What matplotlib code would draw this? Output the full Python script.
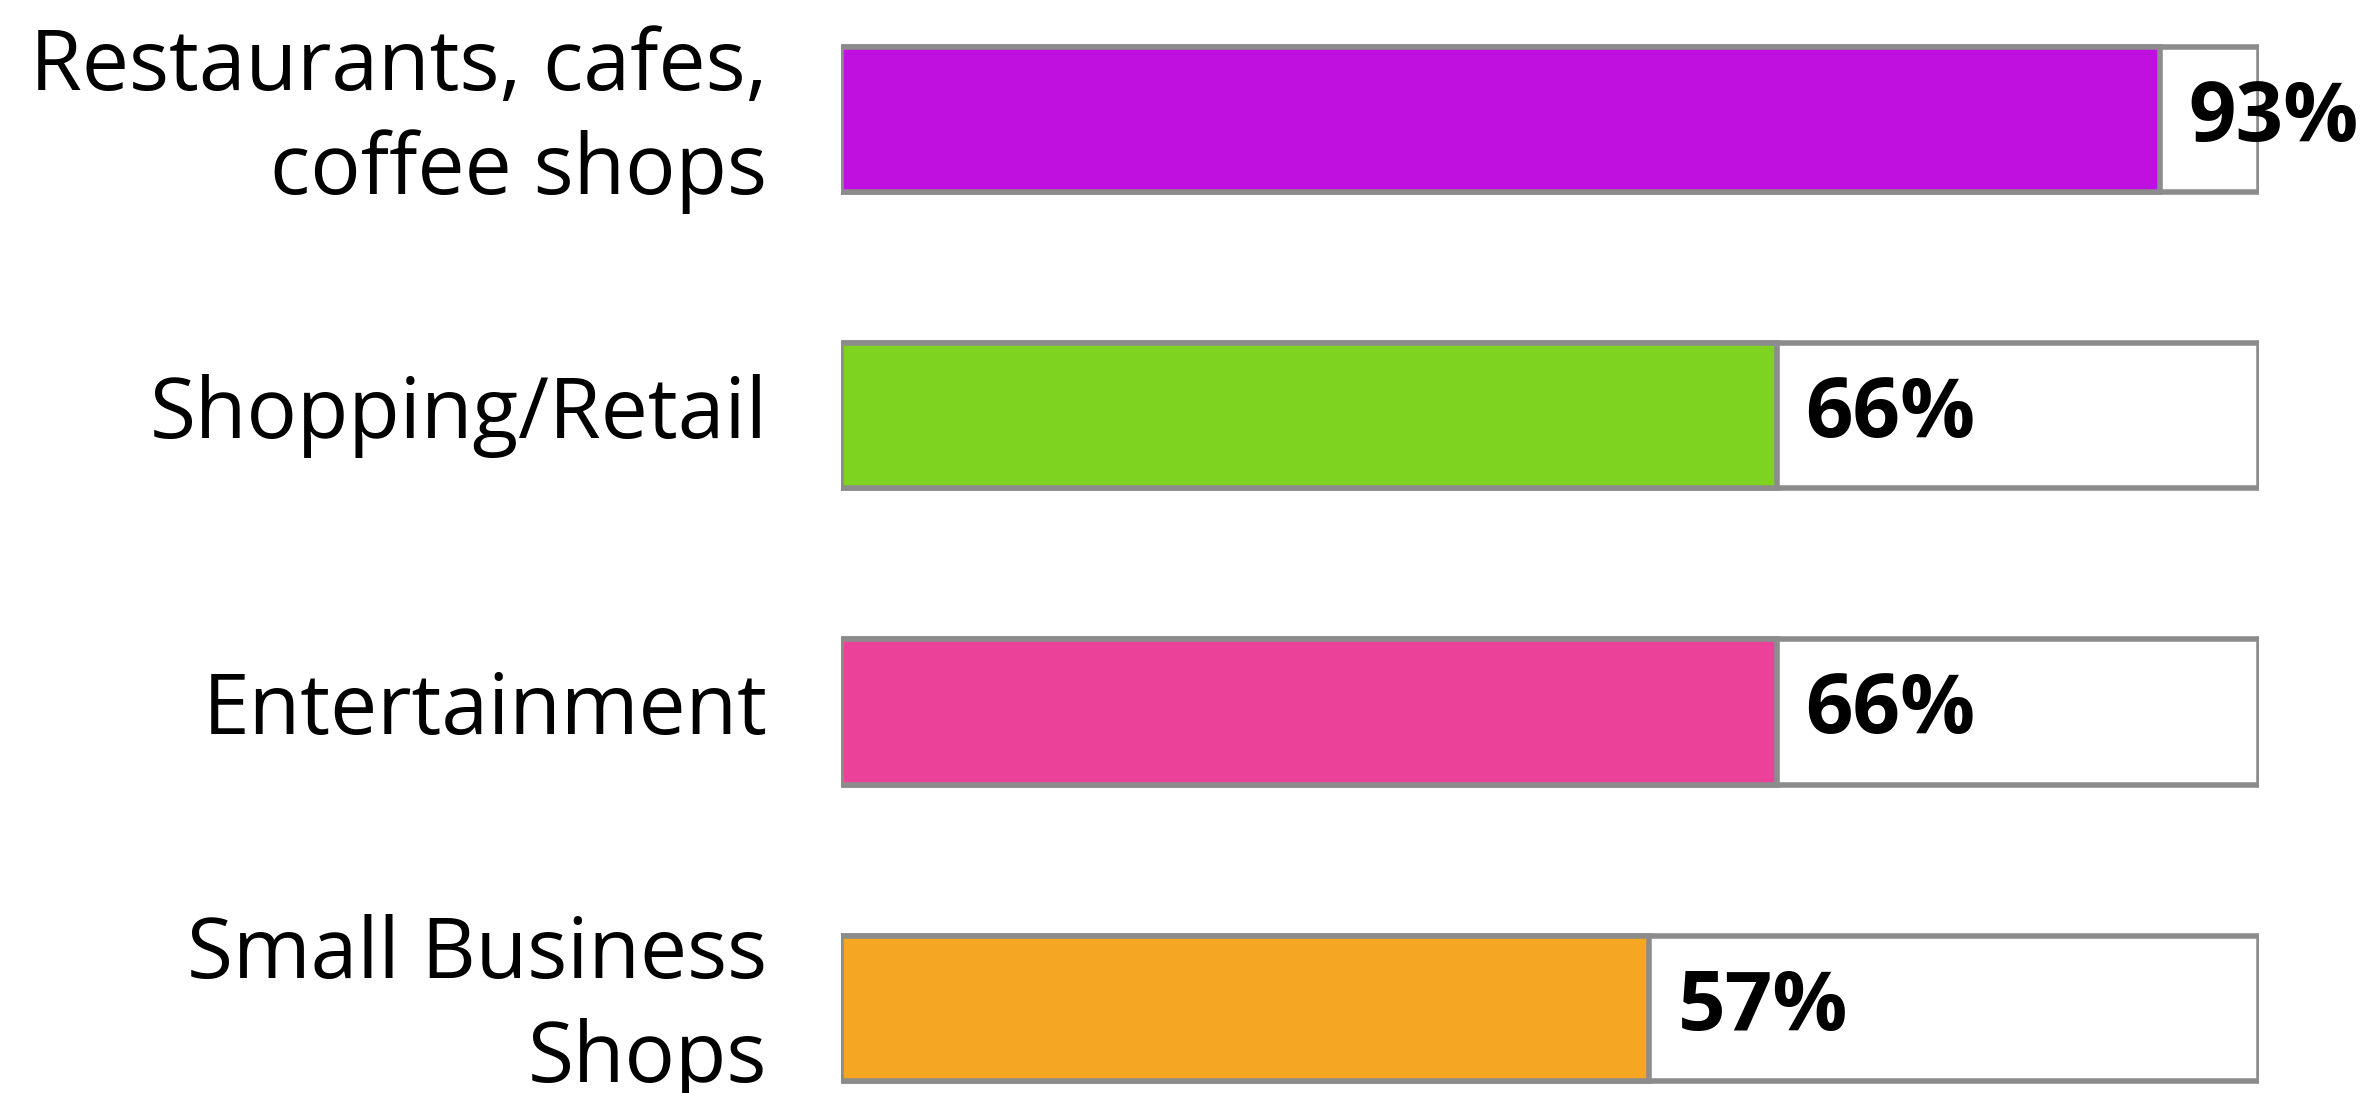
import matplotlib.pyplot as plt

# categories and values
categories = ['Restaurants, cafes,\ncoffee shops', 'Shopping/Retail', 'Entertainment', 'Small Business\nShops']
values = [93, 66, 66, 57]
colors = ['#BF10E0', '#7ED321', '#EC4199', '#F5A623']

plt.rcParams['font.family'] = ['Open Sans', 'DejaVu Sans']

fig = plt.figure(figsize=(23.66, 10.93), dpi=100)
ax = fig.add_axes([841 / 2366, 0, 1418 / 2366, 1])

pos = list(range(len(categories)))
edge = '#8c8c8c'

# full-width background boxes, then the filled part
ax.barh(pos, [100] * len(pos), height=0.49, color='white', edgecolor=edge, linewidth=4)
ax.barh(pos, values, height=0.49, color=colors, edgecolor=edge, linewidth=4)

for i, (cat, v) in enumerate(zip(categories, values)):
    ax.text(-5.2, i, cat, ha='right', va='center', fontsize=60.5, linespacing=1.3)
    ax.text(v + 2.0, i, str(v) + '%', ha='left', va='center', fontsize=60, fontweight='bold')

ax.set_xlim(0, 100)
ax.set_ylim(3.287, -0.405)
ax.axis('off')

plt.savefig('out.png', dpi=100)
